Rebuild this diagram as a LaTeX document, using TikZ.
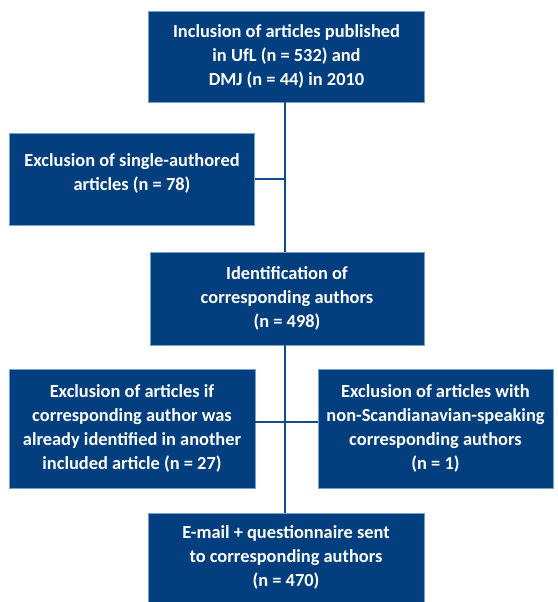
\documentclass[tikz,border=0pt]{standalone}
\usepackage{fontspec}
\setmainfont{Carlito}
\definecolor{boxblue}{RGB}{3,63,126}
\definecolor{rimblue}{RGB}{120,160,205}
\definecolor{lineblue}{RGB}{20,75,140}
\begin{document}
\begin{tikzpicture}[x=1pt,y=-1pt]

        \useasboundingbox (0,0) rectangle (557,602);

        \begin{scope}[every node/.style={rectangle,fill=boxblue,draw=rimblue,line width=0.8pt,
            text=white,align=center,inner sep=0pt,
            font=\bfseries\fontsize{18.4}{23.8}\selectfont}]
          \node (incl)   at (286.5,56.5)  [minimum width=276,minimum height=91]
            {Inclusion of articles published\\in UfL (n = 532) and\\DMJ (n = 44) in 2010};
          \node (single) at (132,179)     [minimum width=245,minimum height=92]
            {Exclusion of single-authored\\articles (n = 78)\\[-10pt]};
          \node (ident)  at (287,298.5)   [minimum width=274,minimum height=93]
            {Identification of\\corresponding authors\\(n = 498)};
          \node (dupl)   at (132,428.5)   [minimum width=246,minimum height=119]
            {Exclusion of articles if\\corresponding author was\\already identified in another\\included article (n = 27)};
          \node (lang)   at (435.5,428.5) [minimum width=235,minimum height=119]
            {Exclusion of articles with\\non-Scandianavian-speaking\\corresponding authors\\(n = 1)};
          \node (mail)   at (286,557.5)   [minimum width=276,minimum height=89]
            {E-mail + questionnaire sent\\to corresponding authors\\(n = 470)};
        \end{scope}

        \coordinate (j1) at (285,179);
        \coordinate (j2) at (285,422);

        \begin{scope}[lineblue,line width=2pt]
          \draw (incl.south -| j1) -- (ident.north -| j1);
          \draw (j1) -- (single.east);
          \draw (ident.south -| j2) -- (mail.north -| j2);
          \draw (dupl.east |- j2) -- (lang.west |- j2);
        \end{scope}

      \end{tikzpicture}
\end{document}
